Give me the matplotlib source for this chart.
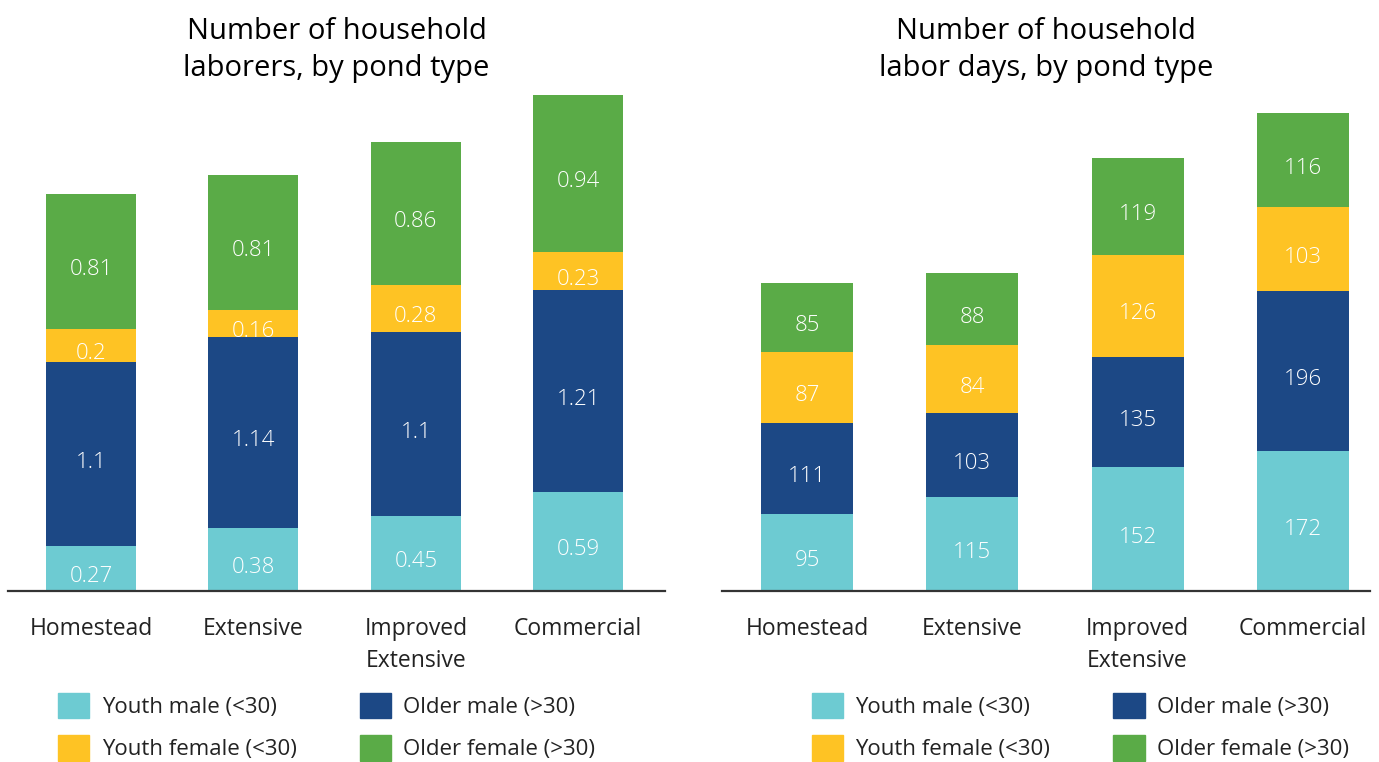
import matplotlib
matplotlib.use('Agg')
import matplotlib.pyplot as plt
import numpy as np
from matplotlib.patches import Patch

plt.rcParams['font.family'] = ['Open Sans', 'DejaVu Sans']

categories = ['Homestead', 'Extensive', 'Improved\nExtensive', 'Commercial']
series = ['Youth male (<30)', 'Older male (>30)', 'Youth female (<30)', 'Older female (>30)']
colors = ['#6dcbd2', '#1c4885', '#fec324', '#5aab47']

laborers_youth_male = [0.27, 0.38, 0.45, 0.59]
laborers_older_male = [1.1, 1.14, 1.1, 1.21]
laborers_youth_female = [0.2, 0.16, 0.28, 0.23]
laborers_older_female = [0.81, 0.81, 0.86, 0.94]

days_youth_male = [95, 115, 152, 172]
days_older_male = [111, 103, 135, 196]
days_youth_female = [87, 84, 126, 103]
days_older_female = [85, 88, 119, 116]

fig = plt.figure(figsize=(13.79, 7.62), dpi=100)
ax1 = fig.add_axes([0.0058, 0.2244, 0.4764, 0.6575])
ax2 = fig.add_axes([0.5236, 0.2244, 0.4699, 0.6575])


def stacked(ax, data, width, ylim, xlim, title, fmt, leg_x):
    x = np.arange(len(categories))
    bottom = np.zeros(len(categories))
    for vals, c in zip(data, colors):
        ax.bar(x, vals, width, bottom=bottom, color=c)
        for xi, b, v in zip(x, bottom, vals):
            ax.annotate(fmt(v), (xi, b + v / 2), xytext=(0, -4), textcoords='offset points',
                        ha='center', va='center_baseline',
                        color='white', fontsize=16, fontweight='light')
        bottom += np.array(vals)
    ax.set_ylim(0, ylim)
    ax.set_xlim(*xlim)
    ax.set_yticks([])
    ax.set_xticks(x)
    ax.set_xticklabels(categories, fontsize=16.5, color='#222222', linespacing=1.45)
    ax.tick_params(axis='x', length=0, pad=19)
    for s in ['top', 'right', 'left']:
        ax.spines[s].set_visible(False)
    ax.spines['bottom'].set_color('#333333')
    ax.spines['bottom'].set_linewidth(1.6)
    ax.set_title(title, fontsize=21, pad=10, linespacing=1.38)
    handles = [Patch(color=colors[i]) for i in [0, 2, 1, 3]]
    labels = [series[i] for i in [0, 2, 1, 3]]
    ax.legend(handles, labels, ncol=2, loc='upper left', bbox_to_anchor=(leg_x, -0.185),
              frameon=False, fontsize=16, handlelength=1.4, handleheight=1.4,
              handletextpad=0.55, columnspacing=2.85, labelspacing=0.75,
              borderaxespad=0, labelcolor='#222222')


stacked(ax1, [laborers_youth_male, laborers_older_male, laborers_youth_female, laborers_older_female],
        0.554, 3.0, (-0.511, 3.534), 'Number of household\nlaborers, by pond type',
        lambda v: ('%g' % v), 0.063)
stacked(ax2, [days_youth_male, days_older_male, days_youth_female, days_older_female],
        0.557, 615, (-0.514, 3.406), 'Number of household\nlabor days, by pond type',
        lambda v: str(v), 0.125)

fig.savefig('out.png', dpi=100)
